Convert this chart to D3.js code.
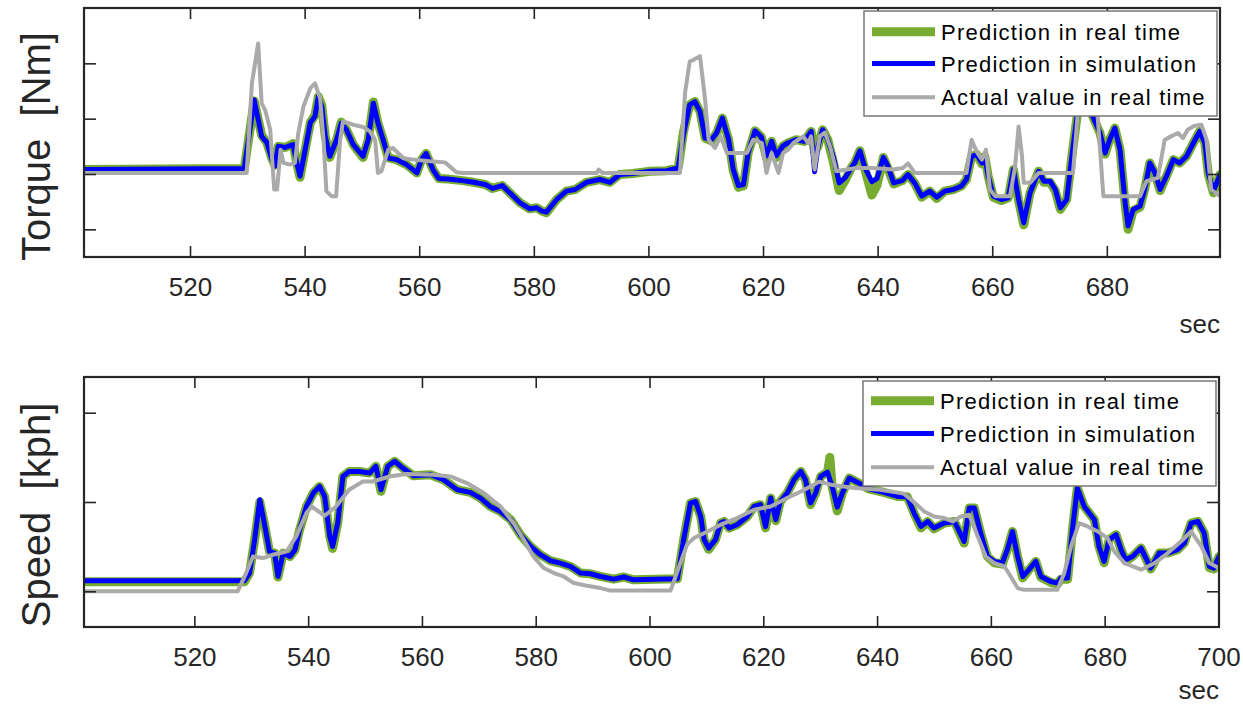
<!DOCTYPE html>
<html>
<head>
<meta charset="utf-8">
<script src="https://cdn.jsdelivr.net/npm/d3@7"></script>
<style>
  body { margin: 0; background: #fff; }
  svg { display: block; font-family: "Liberation Sans", Arial, sans-serif; }
</style>
</head>
<body>
<div id="chart"></div>
<script>
// ---- data (time in sec, values in Nm / kph) ----
const seriesNames = ['Prediction in real time', 'Prediction in simulation', 'Actual value in real time'];
const xTicks = [520, 540, 560, 580, 600, 620, 640, 660, 680, 700];
const torqueTicks = [-100, 0, 100, 200];
const speedTicks = [0, 50, 100];

// torque, prediction in simulation (blue)
const torqueSim = [[501.5,8],[529.2,10],[529.5,12],[531.2,134],[532.5,68],[533.4,57],[534.3,26],[534.8,14],[535.4,50],[536.6,48],[538.0,53],[538.6,21],[539.2,-4],[540.1,44],[541.0,93],[541.8,104],[542.4,140],[543.0,122],[543.6,68],[544.4,32],[545.6,62],[546.4,92],[547.3,80],[548.5,53],[550.2,32],[551.1,62],[552.0,128],[552.8,92],[553.7,62],[554.6,29],[556.0,26],[557.8,17],[559.6,2],[560.4,26],[561.2,37],[562.4,8],[563.4,-8],[565.0,-9],[567.5,-12],[569.5,-15],[571.5,-19],[572.8,-26],[574.5,-21],[576.4,-40],[577.6,-52],[579.3,-63],[580.5,-61],[581.4,-67],[582.2,-69],[584.0,-46],[585.7,-31],[587.2,-28],[589.2,-15],[591.5,-10],[593.3,-15],[595.0,-1],[597.3,1],[600.3,5],[603.2,6],[605.2,11],[606.1,71],[607.2,125],[608.1,131],[609.0,113],[609.9,65],[611.0,62],[611.9,74],[612.9,101],[614.0,62],[614.8,8],[615.7,-21],[616.6,-19],[617.4,38],[618.6,78],[619.7,67],[620.6,33],[621.5,59],[622.3,33],[623.5,51],[624.3,56],[625.8,62],[627.2,59],[628.4,77],[629.0,4],[629.6,50],[630.4,80],[631.3,62],[632.3,30],[633.3,-16],[634.4,-6],[635.4,11],[636.0,20],[636.9,42],[637.8,11],[639.0,-14],[639.9,-8],[641.0,30],[641.8,14],[642.8,-16],[644.3,-12],[645.3,-1],[646.5,-17],[647.7,-40],[649.1,-31],[650.3,-42],[651.7,-31],[653.2,-28],[654.6,-22],[655.5,-10],[656.4,32],[657.3,35],[658.2,20],[658.7,32],[659.3,-4],[660.2,-40],[661.6,-46],[662.8,-43],[663.7,8],[664.6,-46],[665.5,-88],[666.6,-34],[668.1,5],[669.0,-13],[670.1,-13],[671.0,-28],[671.9,-61],[673.0,-46],[673.9,32],[674.8,104],[676.0,190],[677.3,110],[678.8,74],[679.7,38],[680.5,62],[681.4,83],[682.3,44],[683.2,-52],[683.7,-94],[684.6,-64],[685.8,-58],[686.6,-28],[687.5,20],[688.4,2],[689.3,-28],[690.4,-4],[691.6,26],[692.7,20],[693.9,32],[695.1,56],[696.2,77],[697.1,56],[697.7,2],[698.6,-31],[699.75,-1]];

// torque, prediction in real time (green)
const torqueRT = [[501.5,8],[529.2,10],[529.5,12],[531.2,132],[532.5,70],[533.4,57],[534.3,28],[534.8,16],[535.4,50],[536.6,48],[538.0,55],[538.6,21],[539.2,-6],[540.1,44],[541.0,93],[541.8,106],[542.4,140],[543.0,124],[543.6,68],[544.4,30],[545.6,62],[546.4,94],[547.3,80],[548.5,53],[550.2,30],[551.1,62],[552.0,130],[552.8,92],[553.7,62],[554.6,29],[556.0,26],[557.8,17],[559.6,2],[560.4,26],[561.2,37],[562.4,8],[563.4,-8],[565.0,-9],[567.5,-12],[569.5,-15],[571.5,-19],[572.8,-26],[574.5,-21],[576.4,-40],[577.6,-52],[579.3,-63],[580.5,-61],[581.4,-67],[582.2,-70],[584.0,-46],[585.7,-31],[587.2,-28],[589.2,-15],[591.5,-10],[593.3,-15],[595.0,-1],[597.3,1],[600.3,5],[603.2,6],[605.2,11],[606.1,75],[607.2,125],[608.1,131],[609.0,113],[609.9,65],[611.0,60],[611.9,74],[612.9,101],[614.0,62],[614.8,6],[615.7,-24],[616.6,-21],[617.4,38],[618.6,78],[619.7,67],[620.6,30],[621.5,59],[622.3,30],[623.5,51],[624.3,56],[625.8,62],[627.2,59],[628.4,77],[629.0,40],[629.6,50],[630.4,80],[631.3,62],[632.3,20],[633.3,-30],[634.4,-10],[635.4,11],[636.0,20],[636.9,42],[637.8,8],[639.0,-38],[639.9,-20],[641.0,30],[641.8,10],[642.8,-18],[644.3,-12],[645.3,-1],[646.5,-17],[647.7,-42],[649.1,-31],[650.3,-44],[651.7,-31],[653.2,-28],[654.6,-22],[655.5,-10],[656.4,32],[657.3,35],[658.2,18],[658.7,32],[659.3,-4],[660.2,-42],[661.6,-48],[662.8,-43],[663.7,8],[664.6,-48],[665.5,-92],[666.6,-34],[668.1,5],[669.0,-15],[670.1,-15],[671.0,-30],[671.9,-64],[673.0,-46],[673.9,32],[674.8,104],[676.0,190],[677.3,110],[678.8,74],[679.7,36],[680.5,62],[681.4,83],[682.3,44],[683.2,-55],[683.7,-100],[684.6,-66],[685.8,-60],[686.6,-28],[687.5,20],[688.4,0],[689.3,-30],[690.4,-4],[691.6,26],[692.7,20],[693.9,32],[695.1,56],[696.2,77],[697.1,56],[697.7,0],[698.6,-34],[699.75,-1]];

// torque, actual value in real time (grey)
const torqueActual = [[501.5,2],[529.9,2],[530.8,164],[531.9,236],[532.5,128],[533.1,116],[534.0,80],[534.3,32],[534.7,-28],[535.2,-28],[535.8,44],[536.3,20],[537.4,17],[538.3,20],[538.9,74],[539.8,122],[541.0,155],[541.8,164],[542.7,137],[543.3,62],[543.8,-31],[544.7,-40],[545.5,-40],[546.2,62],[546.7,95],[548.5,89],[550.2,85],[551.4,77],[552.3,62],[552.8,2],[553.4,5],[554.6,44],[555.4,47],[557.2,29],[558.9,26],[561.9,23],[564.5,21],[566.5,3],[567.5,2],[591.0,2],[591.3,8],[592.0,2],[605.5,2],[606.4,147],[607.2,203],[607.8,206],[609.0,213],[609.9,134],[610.5,62],[611.6,47],[612.6,68],[613.7,38],[617.2,38],[618.3,62],[619.8,56],[620.6,2],[621.5,38],[622.7,2],[623.5,38],[624.4,44],[625.3,56],[627.0,68],[627.9,56],[628.4,68],[629.0,8],[629.9,68],[630.8,75],[631.7,50],[632.8,5],[634.6,8],[636.3,11],[639.2,11],[642.7,8],[644.4,11],[645.3,19],[646.5,2],[655.5,2],[656.4,62],[657.3,40],[658.2,26],[658.9,44],[659.6,-28],[660.5,-40],[663.1,-40],[664.0,14],[664.6,86],[665.2,32],[665.5,-16],[666.6,-16],[668.1,2],[674.1,2],[675.0,120],[675.6,200],[678.0,200],[678.4,104],[679.4,-40],[685.8,-40],[686.9,-13],[688.9,-7],[690.1,62],[691.2,68],[692.4,74],[693.3,65],[694.1,80],[695.3,87],[696.5,89],[697.4,62],[698.2,-28],[699.75,-40]];

// speed, prediction in simulation (blue)
const speedSim = [[500.6,5.9],[528.8,5.9],[529.7,10.2],[530.6,28.9],[531.5,51.3],[532.4,36.3],[533.2,22.3],[534.1,21.4],[534.7,8.3],[535.6,21.4],[536.8,19.5],[537.7,23.3],[538.5,34.5],[539.7,47.5],[540.9,55],[542.0,58.7],[542.9,53.1],[543.8,30.7],[544.3,25.1],[545.2,38.2],[546.1,64.3],[547.2,67.1],[549.0,67.1],[550.8,66.2],[551.9,70],[552.8,56.9],[554.0,70],[555.2,72.8],[556.6,69.1],[558.5,64.7],[561.5,65.3],[563.8,62.5],[566.2,56.9],[568.5,55.4],[570.3,52.2],[572.0,47.5],[573.8,44.7],[575.6,40.1],[577.3,31.7],[579.1,25.1],[580.8,20.5],[582.6,17.1],[584.3,15.8],[586.1,13.9],[587.9,10.2],[589.6,9.8],[591.4,8.3],[593.7,6.8],[595.5,8],[597.2,6.4],[604.9,7],[606.0,28.9],[607.2,49.4],[608.1,50.3],[609.0,41.9],[609.6,28.9],[610.4,24.2],[611.6,28.9],[612.5,38.2],[613.1,39.1],[614.0,35.4],[615.4,37.3],[617.2,41.9],[618.4,47.5],[619.5,48.5],[620.4,36.2],[621.3,52.2],[622.2,40.1],[623.0,50.3],[624.2,55],[625.4,62.5],[626.6,67.1],[627.4,62.5],[628.3,49.4],[629.2,55],[630.1,64.3],[631.3,66.7],[632.1,58.7],[633.0,47.1],[633.9,55],[635.1,63.4],[636.5,61.1],[638.5,57.4],[641.0,55.5],[643.6,53.1],[645.3,53],[646.5,43.8],[647.7,36.3],[648.9,39.1],[650.0,35.4],[651.8,38.2],[653.6,39.1],[655.3,27.9],[656.2,46.6],[657.1,46.6],[658.2,32.6],[659.4,19.5],[660.6,16.7],[662.0,15.8],[662.9,23.3],[663.8,33.5],[664.7,19.5],[665.6,8.3],[666.7,12.1],[667.9,16.7],[668.8,8.3],[670.5,5.5],[671.7,4.6],[672.3,7.4],[673.5,7.4],[674.4,36.3],[675.2,57.8],[676.4,47.5],[678.2,40.1],[679.0,25.1],[679.9,16.7],[680.8,28.9],[682.0,31.7],[682.9,23.3],[683.7,17.7],[684.9,19.5],[686.4,24.2],[688.1,13],[689.6,21.4],[691.1,21.4],[692.8,23.3],[694.0,27],[695.2,38.2],[696.4,39.1],[697.5,32.6],[698.4,13.9],[699.2,13],[700.1,19.5]];

// speed, prediction in real time (green)
const speedRT = [[500.6,5.3],[528.8,5.3],[529.7,10.2],[530.6,28.9],[531.5,50],[532.4,36.3],[533.2,22.3],[534.1,21.4],[534.7,8],[535.6,21.4],[536.8,19.5],[537.7,23.3],[538.5,34.5],[539.7,47.5],[540.9,55],[542.0,58.7],[542.9,53.1],[543.8,30.7],[544.3,24],[545.2,38.2],[546.1,64.3],[547.2,67.1],[549.0,67.1],[550.8,66.2],[551.9,70],[552.8,56],[554.0,70],[555.2,72.8],[556.6,69.1],[558.5,64.7],[561.5,65.3],[563.8,62.5],[566.2,56.9],[568.5,55.4],[570.3,52.2],[572.0,47.5],[573.8,44.7],[575.6,40.1],[577.3,31.7],[579.1,25.1],[580.8,20.5],[582.6,17.1],[584.3,15.8],[586.1,13.9],[587.9,10.2],[589.6,9.8],[591.4,8.3],[593.7,6.8],[595.5,8],[597.2,6.4],[604.9,7],[606.0,28.9],[607.2,49.4],[608.1,50.3],[609.0,41.9],[609.6,28.9],[610.4,23.5],[611.6,28.9],[612.5,38.2],[613.1,39.1],[614.0,35.4],[615.4,37.3],[617.2,41.9],[618.4,47.5],[619.5,48.5],[620.4,35.5],[621.3,52.2],[622.2,39.5],[623.0,50.3],[624.2,55],[625.4,62.5],[626.6,67.1],[627.4,62.5],[628.3,48.5],[629.2,55],[630.1,64.3],[631.3,66.7],[631.7,75],[632.1,58.7],[633.0,45],[633.9,55],[635.1,63.4],[636.5,61.1],[638.5,57.4],[641.0,55.5],[643.6,53.1],[645.3,53],[646.5,43.8],[647.7,35.5],[648.9,39.1],[650.0,35],[651.8,38.2],[653.6,39.1],[655.3,27],[656.2,46.6],[657.1,46.6],[658.2,32.6],[659.4,19.5],[660.6,16],[662.0,15.2],[662.9,23.3],[663.8,33.5],[664.7,19.5],[665.6,7.5],[666.7,12.1],[667.9,16.7],[668.8,7.8],[670.5,5],[671.7,4],[672.3,6.8],[673.5,6.8],[674.4,36.3],[675.2,57.8],[676.4,47.5],[678.2,40.1],[679.0,25.1],[679.9,16],[680.8,28.9],[682.0,31.7],[682.9,23.3],[683.7,17],[684.9,19.5],[686.4,24.2],[688.1,12.5],[689.6,21.4],[691.1,21.4],[692.8,23.3],[694.0,27],[695.2,38.2],[696.4,39.1],[697.5,32.6],[698.4,13.2],[699.2,12.5],[700.1,19.5]];

// speed, actual value in real time (grey)
const speedActual = [[500.6,0],[527.6,0],[529.1,10.2],[530.3,19.5],[532.1,18.6],[533.8,20.5],[536.2,22.3],[537.9,30.7],[539.7,43.8],[540.6,47.5],[542.9,42.3],[544.9,47.5],[547.2,56.9],[549.6,61.5],[551.4,61.5],[554.3,64.3],[557.2,65.7],[562.0,65.3],[565.0,64.3],[567.9,60.6],[570.9,55],[573.8,47.5],[576.1,38.2],[577.9,28.9],[579.6,19.5],[581.4,13],[583.2,10.2],[584.9,8.3],[586.7,4.6],[589.0,3.1],[591.4,1.8],[593.1,0.4],[603.7,0.4],[605.2,13.9],[606.6,26.1],[607.8,29.8],[610.2,33.5],[612.5,37.3],[615.4,41],[618.4,45.7],[621.3,47.5],[624.2,52.2],[626.6,55.9],[628.3,58.7],[629.8,61.4],[631.9,59.7],[636.0,57.8],[640.6,56.9],[644.7,54.7],[646.5,49.9],[648.3,44.7],[650.0,41.9],[651.8,41],[653.3,39.1],[654.7,41.9],[656.2,42.9],[657.7,30.7],[659.1,19.5],[660.6,15.8],[662.4,13.9],[663.5,8.3],[664.7,1.8],[665.8,0.8],[671.7,0.8],[672.9,10.2],[674.1,25.1],[675.5,38.2],[677.0,36.3],[678.8,33.5],[680.5,29.8],[681.7,22.3],[683.5,15.8],[686.4,12.1],[688.8,15.8],[691.1,21.4],[693.4,27.9],[695.2,33.5],[697.0,25.1],[698.4,15.8],[700.1,13]];

// ---- styling ----
const seriesColors = ['#77ac30', '#0000ff', '#aaaaaa'];
const seriesWidths = [9, 5, 4];
const inkColor = '#262626';
const width = 1243, height = 705;

const panels = [
  {
    label: 'Torque  [Nm]', series: [torqueRT, torqueSim, torqueActual],
    xDomain: [501.5, 699.75], yDomain: [-150, 300], yTicks: torqueTicks,
    left: 84, right: 1220, top: 8, bottom: 257, labelY: 146.5, secY: 333,
    legend: { x: 864, y: 11, w: 353, h: 105, rows: [31.7, 63.5, 97.3] }
  },
  {
    label: 'Speed  [kph]', series: [speedRT, speedSim, speedActual],
    xDomain: [500.6, 700.1], yDomain: [-20, 120], yTicks: speedTicks,
    left: 84, right: 1219, top: 377, bottom: 627, labelY: 515, secY: 699,
    legend: { x: 863, y: 381, w: 353, h: 105, rows: [400.7, 433.5, 467.3] }
  }
];

const svg = d3.select('#chart').append('svg')
  .attr('width', width).attr('height', height)
  .attr('viewBox', `0 0 ${width} ${height}`);
svg.append('rect').attr('width', width).attr('height', height).attr('fill', '#fff');

function drawPanel(p, i) {
  const g = svg.append('g').attr('class', 'panel');
  const x = d3.scaleLinear().domain(p.xDomain).range([p.left, p.right]);
  const y = d3.scaleLinear().domain(p.yDomain).range([p.bottom, p.top]);

  // clip the lines to the axes box
  svg.append('clipPath').attr('id', 'clip' + i)
    .append('rect')
    .attr('x', p.left).attr('y', p.top)
    .attr('width', p.right - p.left).attr('height', p.bottom - p.top);

  const line = d3.line().x(d => x(d[0])).y(d => y(d[1]));
  g.append('g').attr('clip-path', `url(#clip${i})`)
    .selectAll('path').data(p.series).join('path')
    .attr('d', line)
    .attr('fill', 'none')
    .attr('stroke', (d, k) => seriesColors[k])
    .attr('stroke-width', (d, k) => seriesWidths[k])
    .attr('stroke-linejoin', 'round')
    .attr('stroke-linecap', 'round');

  // ticks on all four sides, pointing inward (matlab box style)
  const xt = xTicks.filter(t => t >= p.xDomain[0] && t <= p.xDomain[1]);
  const axes = [
    g.append('g').attr('transform', `translate(0,${p.bottom})`)
      .call(d3.axisBottom(x).tickValues(xt).tickSizeInner(-11).tickSizeOuter(0).tickPadding(21).tickFormat(d3.format('d'))),
    g.append('g').attr('transform', `translate(0,${p.top})`)
      .call(d3.axisTop(x).tickValues(xt).tickSizeInner(-11).tickSizeOuter(0).tickFormat('')),
    g.append('g').attr('transform', `translate(${p.left},0)`)
      .call(d3.axisLeft(y).tickValues(p.yTicks).tickSizeInner(-12).tickSizeOuter(0).tickFormat('')),
    g.append('g').attr('transform', `translate(${p.right},0)`)
      .call(d3.axisRight(y).tickValues(p.yTicks).tickSizeInner(-12).tickSizeOuter(0).tickFormat(''))
  ];
  axes.forEach(a => {
    a.select('.domain').remove();
    a.attr('font-family', null).attr('font-size', null);
    a.selectAll('line').attr('stroke', inkColor).attr('stroke-width', 1.6);
    a.selectAll('text').attr('fill', inkColor).attr('font-size', 26);
  });

  // frame
  g.append('rect')
    .attr('x', p.left).attr('y', p.top)
    .attr('width', p.right - p.left).attr('height', p.bottom - p.top)
    .attr('fill', 'none').attr('stroke', inkColor).attr('stroke-width', 2.2);

  // y label
  g.append('text')
    .attr('transform', `translate(50,${p.labelY}) rotate(-90)`)
    .attr('text-anchor', 'middle')
    .attr('font-size', 40)
    .attr('fill', inkColor)
    .style('white-space', 'pre')
    .text(p.label);

  // x unit
  g.append('text')
    .attr('x', p.right).attr('y', p.secY)
    .attr('text-anchor', 'end')
    .attr('font-size', 26)
    .attr('fill', inkColor)
    .text('sec');

  // legend
  const L = p.legend;
  const lg = g.append('g').attr('class', 'legend');
  lg.append('rect')
    .attr('x', L.x).attr('y', L.y).attr('width', L.w).attr('height', L.h)
    .attr('fill', '#fff').attr('stroke', '#6e6e6e').attr('stroke-width', 1.4);
  const rows = lg.selectAll('g.row').data(seriesNames).join('g').attr('class', 'row');
  rows.append('line')
    .attr('x1', L.x + 8).attr('x2', L.x + 71)
    .attr('y1', (d, k) => L.rows[k]).attr('y2', (d, k) => L.rows[k])
    .attr('stroke', (d, k) => seriesColors[k])
    .attr('stroke-width', (d, k) => seriesWidths[k]);
  rows.append('text')
    .attr('x', L.x + 77).attr('y', (d, k) => L.rows[k] + 8)
    .attr('font-size', 22)
    .attr('letter-spacing', 1.25)
    .attr('fill', '#000')
    .text(d => d);
}

panels.forEach(drawPanel);
</script>
</body>
</html>
